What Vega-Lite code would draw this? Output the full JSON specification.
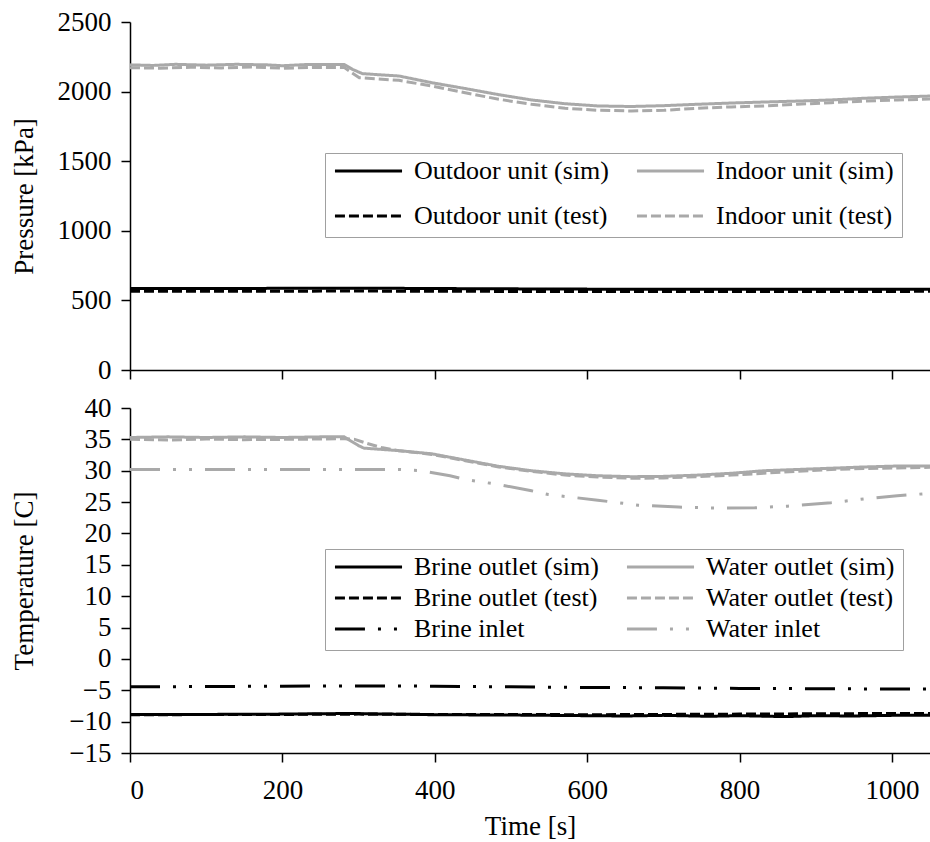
{
  "$schema": "https://vega.github.io/schema/vega-lite/v6.json",
  "padding": {"left": 10, "top": 8, "right": 0, "bottom": 0},
  "background": "white",
  "config": {
    "font": "Liberation Serif",
    "view": {"stroke": null},
    "axis": {
      "labelFont": "Liberation Serif", "titleFont": "Liberation Serif",
      "labelFontSize": 27, "titleFontSize": 27, "titleFontWeight": "normal",
      "labelColor": "black", "titleColor": "black",
      "domainColor": "black", "tickColor": "black",
      "domainWidth": 1.5, "tickWidth": 1.5, "tickSize": 9,
      "grid": false, "labelPadding": 10, "format": "d"
    },
    "legend": {"labelFont": "Liberation Serif"},
    "concat": {"spacing": 11}
  },
  "datasets": {
    "pressure": [
      {"s": "Indoor unit (test)", "t": 0, "v": 2172}, {"s": "Indoor unit (test)", "t": 40, "v": 2168}, {"s": "Indoor unit (test)", "t": 80, "v": 2175}, {"s": "Indoor unit (test)", "t": 120, "v": 2170}, {"s": "Indoor unit (test)", "t": 160, "v": 2176}, {"s": "Indoor unit (test)", "t": 200, "v": 2168}, {"s": "Indoor unit (test)", "t": 240, "v": 2174}, {"s": "Indoor unit (test)", "t": 281, "v": 2174}, {"s": "Indoor unit (test)", "t": 290, "v": 2140}, {"s": "Indoor unit (test)", "t": 301, "v": 2100}, {"s": "Indoor unit (test)", "t": 353, "v": 2081}, {"s": "Indoor unit (test)", "t": 396, "v": 2040}, {"s": "Indoor unit (test)", "t": 440, "v": 1992}, {"s": "Indoor unit (test)", "t": 484, "v": 1945}, {"s": "Indoor unit (test)", "t": 527, "v": 1909}, {"s": "Indoor unit (test)", "t": 571, "v": 1880}, {"s": "Indoor unit (test)", "t": 614, "v": 1866}, {"s": "Indoor unit (test)", "t": 658, "v": 1861}, {"s": "Indoor unit (test)", "t": 701, "v": 1866}, {"s": "Indoor unit (test)", "t": 745, "v": 1880}, {"s": "Indoor unit (test)", "t": 789, "v": 1890}, {"s": "Indoor unit (test)", "t": 832, "v": 1897}, {"s": "Indoor unit (test)", "t": 876, "v": 1909}, {"s": "Indoor unit (test)", "t": 920, "v": 1920}, {"s": "Indoor unit (test)", "t": 963, "v": 1932}, {"s": "Indoor unit (test)", "t": 1007, "v": 1940}, {"s": "Indoor unit (test)", "t": 1050, "v": 1946},
      {"s": "Outdoor unit (test)", "t": 0, "v": 566}, {"s": "Outdoor unit (test)", "t": 150, "v": 566}, {"s": "Outdoor unit (test)", "t": 300, "v": 567}, {"s": "Outdoor unit (test)", "t": 450, "v": 565}, {"s": "Outdoor unit (test)", "t": 600, "v": 564}, {"s": "Outdoor unit (test)", "t": 750, "v": 564}, {"s": "Outdoor unit (test)", "t": 900, "v": 564}, {"s": "Outdoor unit (test)", "t": 1050, "v": 565},
      {"s": "Indoor unit (sim)", "t": 0, "v": 2192}, {"s": "Indoor unit (sim)", "t": 30, "v": 2188}, {"s": "Indoor unit (sim)", "t": 60, "v": 2196}, {"s": "Indoor unit (sim)", "t": 100, "v": 2190}, {"s": "Indoor unit (sim)", "t": 140, "v": 2196}, {"s": "Indoor unit (sim)", "t": 180, "v": 2192}, {"s": "Indoor unit (sim)", "t": 200, "v": 2186}, {"s": "Indoor unit (sim)", "t": 230, "v": 2194}, {"s": "Indoor unit (sim)", "t": 281, "v": 2195}, {"s": "Indoor unit (sim)", "t": 292, "v": 2160}, {"s": "Indoor unit (sim)", "t": 305, "v": 2129}, {"s": "Indoor unit (sim)", "t": 353, "v": 2112}, {"s": "Indoor unit (sim)", "t": 396, "v": 2064}, {"s": "Indoor unit (sim)", "t": 440, "v": 2022}, {"s": "Indoor unit (sim)", "t": 484, "v": 1978}, {"s": "Indoor unit (sim)", "t": 527, "v": 1940}, {"s": "Indoor unit (sim)", "t": 571, "v": 1913}, {"s": "Indoor unit (sim)", "t": 614, "v": 1897}, {"s": "Indoor unit (sim)", "t": 658, "v": 1893}, {"s": "Indoor unit (sim)", "t": 701, "v": 1899}, {"s": "Indoor unit (sim)", "t": 745, "v": 1909}, {"s": "Indoor unit (sim)", "t": 789, "v": 1918}, {"s": "Indoor unit (sim)", "t": 832, "v": 1925}, {"s": "Indoor unit (sim)", "t": 876, "v": 1932}, {"s": "Indoor unit (sim)", "t": 920, "v": 1940}, {"s": "Indoor unit (sim)", "t": 963, "v": 1952}, {"s": "Indoor unit (sim)", "t": 1007, "v": 1961}, {"s": "Indoor unit (sim)", "t": 1050, "v": 1968},
      {"s": "Outdoor unit (sim)", "t": 0, "v": 585}, {"s": "Outdoor unit (sim)", "t": 150, "v": 586}, {"s": "Outdoor unit (sim)", "t": 300, "v": 588}, {"s": "Outdoor unit (sim)", "t": 450, "v": 584}, {"s": "Outdoor unit (sim)", "t": 600, "v": 581}, {"s": "Outdoor unit (sim)", "t": 750, "v": 581}, {"s": "Outdoor unit (sim)", "t": 900, "v": 580}, {"s": "Outdoor unit (sim)", "t": 1050, "v": 581}
    ],
    "temperature": [
      {"s": "Water inlet", "t": 0, "v": 30.2}, {"s": "Water inlet", "t": 100, "v": 30.2}, {"s": "Water inlet", "t": 200, "v": 30.2}, {"s": "Water inlet", "t": 300, "v": 30.2}, {"s": "Water inlet", "t": 353, "v": 30.2}, {"s": "Water inlet", "t": 383, "v": 30.0}, {"s": "Water inlet", "t": 420, "v": 29.2}, {"s": "Water inlet", "t": 440, "v": 28.6}, {"s": "Water inlet", "t": 484, "v": 27.8}, {"s": "Water inlet", "t": 527, "v": 26.8}, {"s": "Water inlet", "t": 549, "v": 26.2}, {"s": "Water inlet", "t": 571, "v": 25.9}, {"s": "Water inlet", "t": 614, "v": 25.3}, {"s": "Water inlet", "t": 667, "v": 24.5}, {"s": "Water inlet", "t": 720, "v": 24.2}, {"s": "Water inlet", "t": 767, "v": 24.05}, {"s": "Water inlet", "t": 820, "v": 24.1}, {"s": "Water inlet", "t": 863, "v": 24.35}, {"s": "Water inlet", "t": 920, "v": 24.9}, {"s": "Water inlet", "t": 963, "v": 25.5}, {"s": "Water inlet", "t": 1007, "v": 26.0}, {"s": "Water inlet", "t": 1050, "v": 26.4},
      {"s": "Water outlet (test)", "t": 0, "v": 35.0}, {"s": "Water outlet (test)", "t": 50, "v": 34.9}, {"s": "Water outlet (test)", "t": 100, "v": 35.05}, {"s": "Water outlet (test)", "t": 150, "v": 34.95}, {"s": "Water outlet (test)", "t": 200, "v": 35.0}, {"s": "Water outlet (test)", "t": 250, "v": 35.05}, {"s": "Water outlet (test)", "t": 281, "v": 35.1}, {"s": "Water outlet (test)", "t": 295, "v": 35.0}, {"s": "Water outlet (test)", "t": 310, "v": 34.4}, {"s": "Water outlet (test)", "t": 330, "v": 33.7}, {"s": "Water outlet (test)", "t": 353, "v": 33.2}, {"s": "Water outlet (test)", "t": 396, "v": 32.6}, {"s": "Water outlet (test)", "t": 440, "v": 31.6}, {"s": "Water outlet (test)", "t": 484, "v": 30.6}, {"s": "Water outlet (test)", "t": 527, "v": 29.9}, {"s": "Water outlet (test)", "t": 571, "v": 29.3}, {"s": "Water outlet (test)", "t": 614, "v": 29.0}, {"s": "Water outlet (test)", "t": 658, "v": 28.8}, {"s": "Water outlet (test)", "t": 700, "v": 28.85}, {"s": "Water outlet (test)", "t": 745, "v": 29.05}, {"s": "Water outlet (test)", "t": 790, "v": 29.3}, {"s": "Water outlet (test)", "t": 832, "v": 29.6}, {"s": "Water outlet (test)", "t": 876, "v": 29.9}, {"s": "Water outlet (test)", "t": 920, "v": 30.2}, {"s": "Water outlet (test)", "t": 963, "v": 30.35}, {"s": "Water outlet (test)", "t": 1007, "v": 30.45}, {"s": "Water outlet (test)", "t": 1050, "v": 30.55},
      {"s": "Water outlet (sim)", "t": 0, "v": 35.3}, {"s": "Water outlet (sim)", "t": 50, "v": 35.4}, {"s": "Water outlet (sim)", "t": 100, "v": 35.3}, {"s": "Water outlet (sim)", "t": 150, "v": 35.4}, {"s": "Water outlet (sim)", "t": 200, "v": 35.3}, {"s": "Water outlet (sim)", "t": 250, "v": 35.4}, {"s": "Water outlet (sim)", "t": 281, "v": 35.4}, {"s": "Water outlet (sim)", "t": 300, "v": 34.0}, {"s": "Water outlet (sim)", "t": 307, "v": 33.6}, {"s": "Water outlet (sim)", "t": 353, "v": 33.2}, {"s": "Water outlet (sim)", "t": 396, "v": 32.7}, {"s": "Water outlet (sim)", "t": 440, "v": 31.7}, {"s": "Water outlet (sim)", "t": 484, "v": 30.7}, {"s": "Water outlet (sim)", "t": 527, "v": 30.0}, {"s": "Water outlet (sim)", "t": 571, "v": 29.5}, {"s": "Water outlet (sim)", "t": 614, "v": 29.2}, {"s": "Water outlet (sim)", "t": 658, "v": 29.05}, {"s": "Water outlet (sim)", "t": 700, "v": 29.1}, {"s": "Water outlet (sim)", "t": 745, "v": 29.3}, {"s": "Water outlet (sim)", "t": 790, "v": 29.6}, {"s": "Water outlet (sim)", "t": 832, "v": 30.0}, {"s": "Water outlet (sim)", "t": 876, "v": 30.2}, {"s": "Water outlet (sim)", "t": 920, "v": 30.4}, {"s": "Water outlet (sim)", "t": 963, "v": 30.6}, {"s": "Water outlet (sim)", "t": 1007, "v": 30.75}, {"s": "Water outlet (sim)", "t": 1050, "v": 30.75},
      {"s": "Brine inlet", "t": 0, "v": -4.45}, {"s": "Brine inlet", "t": 100, "v": -4.4}, {"s": "Brine inlet", "t": 200, "v": -4.35}, {"s": "Brine inlet", "t": 300, "v": -4.3}, {"s": "Brine inlet", "t": 400, "v": -4.35}, {"s": "Brine inlet", "t": 500, "v": -4.45}, {"s": "Brine inlet", "t": 600, "v": -4.55}, {"s": "Brine inlet", "t": 700, "v": -4.6}, {"s": "Brine inlet", "t": 800, "v": -4.7}, {"s": "Brine inlet", "t": 900, "v": -4.75}, {"s": "Brine inlet", "t": 1000, "v": -4.8}, {"s": "Brine inlet", "t": 1050, "v": -4.8},
      {"s": "Brine outlet (test)", "t": 0, "v": -8.9}, {"s": "Brine outlet (test)", "t": 200, "v": -8.85}, {"s": "Brine outlet (test)", "t": 300, "v": -8.8}, {"s": "Brine outlet (test)", "t": 400, "v": -8.85}, {"s": "Brine outlet (test)", "t": 500, "v": -8.85}, {"s": "Brine outlet (test)", "t": 600, "v": -8.9}, {"s": "Brine outlet (test)", "t": 700, "v": -8.85}, {"s": "Brine outlet (test)", "t": 800, "v": -8.8}, {"s": "Brine outlet (test)", "t": 900, "v": -8.75}, {"s": "Brine outlet (test)", "t": 1000, "v": -8.7}, {"s": "Brine outlet (test)", "t": 1050, "v": -8.7},
      {"s": "Brine outlet (sim)", "t": 0, "v": -8.85}, {"s": "Brine outlet (sim)", "t": 100, "v": -8.85}, {"s": "Brine outlet (sim)", "t": 200, "v": -8.8}, {"s": "Brine outlet (sim)", "t": 290, "v": -8.7}, {"s": "Brine outlet (sim)", "t": 400, "v": -8.9}, {"s": "Brine outlet (sim)", "t": 500, "v": -8.95}, {"s": "Brine outlet (sim)", "t": 600, "v": -9.05}, {"s": "Brine outlet (sim)", "t": 650, "v": -9.1}, {"s": "Brine outlet (sim)", "t": 700, "v": -9.0}, {"s": "Brine outlet (sim)", "t": 760, "v": -9.15}, {"s": "Brine outlet (sim)", "t": 800, "v": -9.05}, {"s": "Brine outlet (sim)", "t": 860, "v": -9.2}, {"s": "Brine outlet (sim)", "t": 900, "v": -9.05}, {"s": "Brine outlet (sim)", "t": 950, "v": -9.1}, {"s": "Brine outlet (sim)", "t": 1000, "v": -9.0}, {"s": "Brine outlet (sim)", "t": 1050, "v": -9.0}
    ]
  },
  "resolve": {"scale": {"color": "independent", "strokeDash": "independent"}, "legend": {"color": "independent", "strokeDash": "independent"}},
  "vconcat": [
    {
      "width": 800, "height": 348,
      "data": {"name": "pressure"},
      "mark": {"type": "line", "strokeWidth": 3},
      "encoding": {
        "x": {"field": "t", "type": "quantitative", "scale": {"domain": [0, 1050], "nice": false, "zero": false}, "axis": {"labels": false, "title": null, "values": [0, 200, 400, 600, 800, 1000]}},
        "y": {"field": "v", "type": "quantitative", "scale": {"domain": [0, 2500], "nice": false}, "axis": {"values": [0, 500, 1000, 1500, 2000, 2500], "title": "Pressure [kPa]", "titleX": -106, "titleBaseline": "middle"}},
        "color": {"field": "s", "type": "nominal",
          "scale": {"domain": ["Outdoor unit (sim)", "Outdoor unit (test)", "Indoor unit (sim)", "Indoor unit (test)"], "range": ["#000000", "#000000", "#A9A9A9", "#A9A9A9"]},
          "legend": {"title": null, "orient": "none", "legendX": 195, "legendY": 131, "columns": 2, "symbolType": "stroke", "symbolSize": 4500, "symbolStrokeWidth": 3, "clipHeight": 20, "labelFont": "Liberation Serif", "labelFontSize": 26, "labelColor": "black", "labelLimit": 400, "labelOffset": 10, "columnPadding": 26, "rowPadding": 19, "padding": 8, "strokeColor": "#A0A0A0", "fillColor": "white"}},
        "strokeDash": {"field": "s", "type": "nominal",
          "scale": {"domain": ["Outdoor unit (sim)", "Outdoor unit (test)", "Indoor unit (sim)", "Indoor unit (test)"], "range": [[1, 0], [10, 4], [1, 0], [10, 4]]},
          "legend": {"title": null, "orient": "none", "legendX": 195, "legendY": 131, "columns": 2, "symbolType": "stroke", "symbolSize": 4500, "symbolStrokeWidth": 3, "clipHeight": 20, "labelFont": "Liberation Serif", "labelFontSize": 26, "labelColor": "black", "labelLimit": 400, "labelOffset": 10, "columnPadding": 26, "rowPadding": 19, "padding": 8, "strokeColor": "#A0A0A0", "fillColor": "white"}}
      }
    },
    {
      "width": 800, "height": 345,
      "data": {"name": "temperature"},
      "mark": {"type": "line", "strokeWidth": 3},
      "encoding": {
        "x": {"field": "t", "type": "quantitative", "scale": {"domain": [0, 1050], "nice": false, "zero": false}, "axis": {"title": "Time [s]", "values": [0, 200, 400, 600, 800, 1000], "labelPadding": 15, "titlePadding": 10}},
        "y": {"field": "v", "type": "quantitative", "scale": {"domain": [-15, 40], "nice": false, "zero": false}, "axis": {"values": [-15, -10, -5, 0, 5, 10, 15, 20, 25, 30, 35, 40], "title": "Temperature [C]", "titleX": -106, "titleBaseline": "middle"}},
        "color": {"field": "s", "type": "nominal",
          "scale": {"domain": ["Brine outlet (sim)", "Brine outlet (test)", "Brine inlet", "Water outlet (sim)", "Water outlet (test)", "Water inlet"], "range": ["#000000", "#000000", "#000000", "#A9A9A9", "#A9A9A9", "#A9A9A9"]},
          "legend": {"title": null, "orient": "none", "legendX": 195, "legendY": 141, "columns": 2, "symbolType": "stroke", "symbolSize": 4500, "symbolStrokeWidth": 3, "clipHeight": 20, "labelFont": "Liberation Serif", "labelFontSize": 26, "labelColor": "black", "labelLimit": 400, "labelOffset": 10, "columnPadding": 26, "rowPadding": 5, "padding": 8, "strokeColor": "#A0A0A0", "fillColor": "white"}},
        "strokeDash": {"field": "s", "type": "nominal",
          "scale": {"domain": ["Brine outlet (sim)", "Brine outlet (test)", "Brine inlet", "Water outlet (sim)", "Water outlet (test)", "Water inlet"], "range": [[1, 0], [10, 4], [30, 13, 3, 13, 3, 13], [1, 0], [10, 4], [30, 13, 3, 13, 3, 13]]},
          "legend": {"title": null, "orient": "none", "legendX": 195, "legendY": 141, "columns": 2, "symbolType": "stroke", "symbolSize": 4500, "symbolStrokeWidth": 3, "clipHeight": 20, "labelFont": "Liberation Serif", "labelFontSize": 26, "labelColor": "black", "labelLimit": 400, "labelOffset": 10, "columnPadding": 26, "rowPadding": 5, "padding": 8, "strokeColor": "#A0A0A0", "fillColor": "white"}}
      }
    }
  ]
}
